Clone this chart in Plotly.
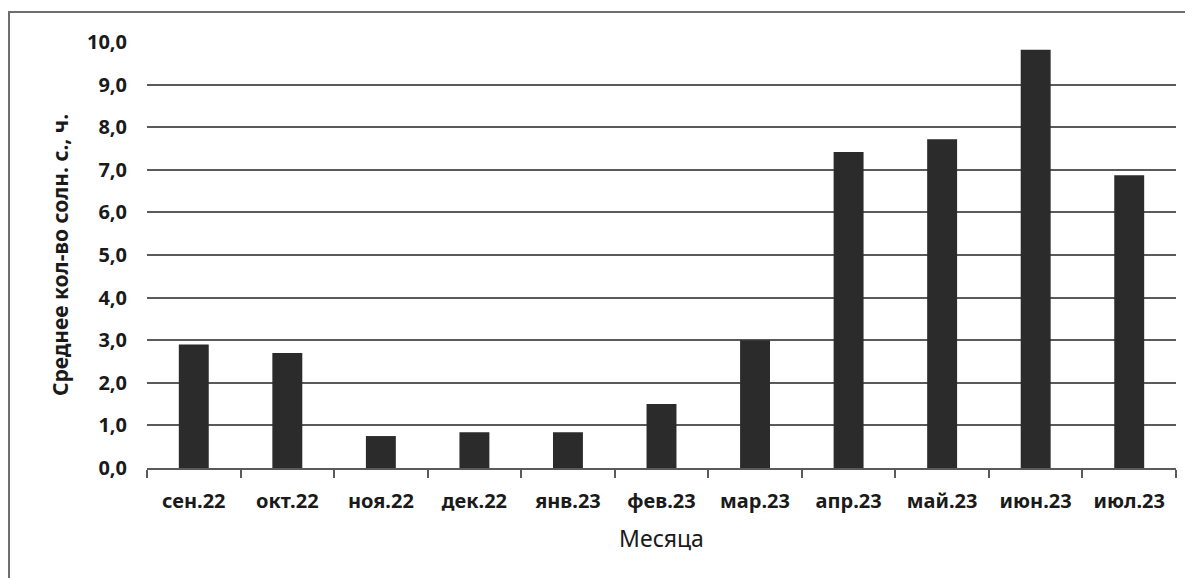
import plotly.graph_objects as go

months = ["сен.22", "окт.22", "ноя.22", "дек.22", "янв.23", "фев.23",
          "мар.23", "апр.23", "май.23", "июн.23", "июл.23"]
sun_hours = [2.9, 2.7, 0.75, 0.84, 0.84, 1.5, 3.0, 7.42, 7.72, 9.82, 6.87]
y_ticks = [0, 1, 2, 3, 4, 5, 6, 7, 8, 9, 10]

# page has an 8px body margin, so figure coordinates are offset
W, H = 1193, 578
ml, mr, mt, mb = 139, 25, 34, 118

fig = go.Figure(go.Bar(x=months, y=sun_hours, marker=dict(color="#2b2b2b", line=dict(width=0))))

pw = W - ml - mr
ph = H - mt - mb

fig.update_layout(
    width=W, height=H,
    margin=dict(l=ml, r=mr, t=mt, b=mb, autoexpand=False),
    paper_bgcolor="white", plot_bgcolor="white",
    separators=", ",
    bargap=0.68,
    showlegend=False,
    font=dict(family="Noto Sans, Open Sans, sans-serif", color="#1a1a1a"),
    xaxis=dict(
        automargin=False,
        showgrid=False, showline=True, linecolor="#5a5a5a", linewidth=2,
        ticks="outside", tickson="boundaries", ticklen=8, tickwidth=2, tickcolor="#5a5a5a",
        ticklabelstandoff=14,
        tickfont=dict(size=20, weight="bold"),
        title=dict(text="Месяца", font=dict(size=23), standoff=18),
    ),
    yaxis=dict(
        automargin=False,
        range=[0, 10], tickvals=y_ticks, tickformat=".1f",
        showgrid=True, gridcolor="#5a5a5a", gridwidth=2,
        zeroline=False, showline=False, ticks="", ticklen=0,
        ticklabelstandoff=19,
        tickfont=dict(size=20, weight="bold"),
        title=dict(text="Среднее кол-во солн. с., ч.", font=dict(size=21, weight="bold"), standoff=12),
    ),
    shapes=[dict(type="rect", xref="paper", yref="paper",
                 x0=(1 - ml) / pw, x1=1.05, y0=-0.4, y1=(H - mb - 4) / ph,
                 line=dict(color="#6e6e6e", width=2), layer="below")],
)

fig.write_html("out.html")
